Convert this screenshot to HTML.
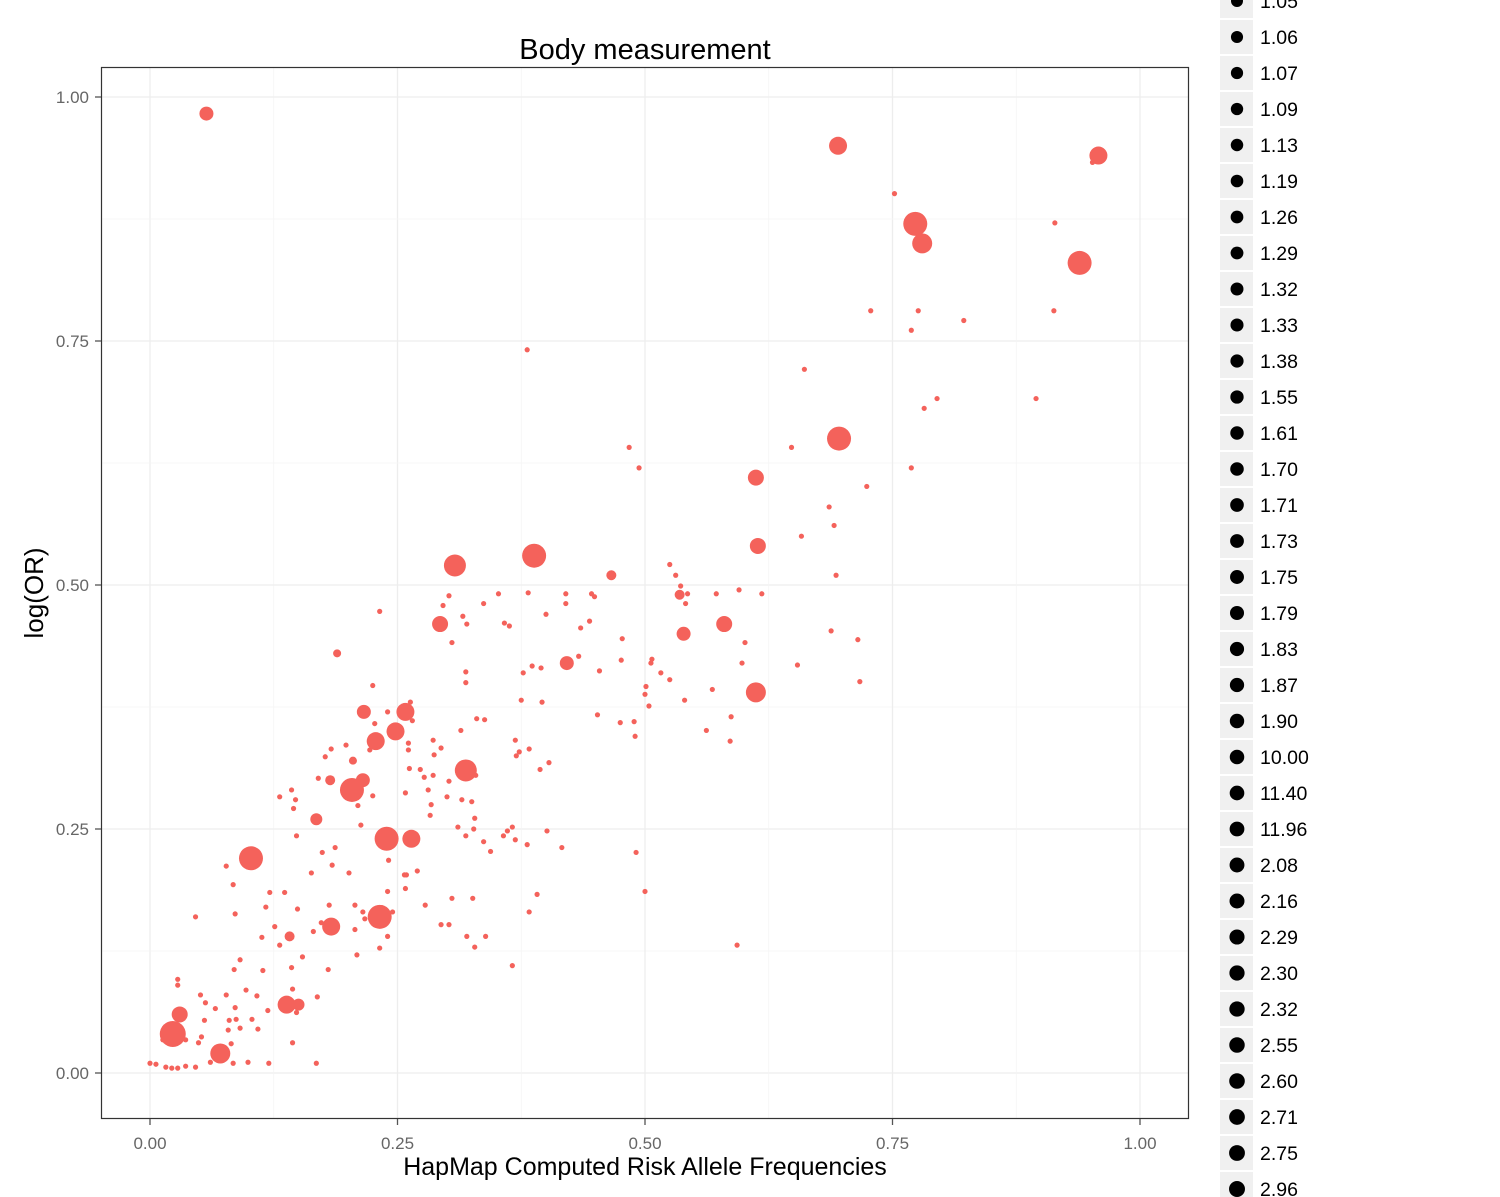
<!DOCTYPE html>
<html><head><meta charset="utf-8"><style>
body{margin:0;background:#fff;width:1500px;height:1197px;overflow:hidden;font-family:"Liberation Sans",Arial,sans-serif}
svg{display:block}
</style></head><body>
<svg id="chart" width="1500" height="1197" viewBox="0 0 1500 1197" xmlns="http://www.w3.org/2000/svg">
<text x="645" y="59" font-size="29" text-anchor="middle" fill="#000">Body measurement</text>
<g id="grid"></g>
<g id="points"></g>
<rect x="101.5" y="67.5" width="1087" height="1051" fill="none" stroke="#333" stroke-width="1.2"/>
<g id="axes"></g>
<text x="645" y="1175" font-size="25" text-anchor="middle" fill="#000">HapMap Computed Risk Allele Frequencies</text>
<text transform="translate(43,593) rotate(-90)" font-size="26" text-anchor="middle" fill="#000">log(OR)</text>
<g id="legend"></g>
</svg>
<script>
const xTicks=[0,0.25,0.5,0.75,1];
const yTicks=[0,0.25,0.5,0.75,1];
const xTickLabels=["0.00","0.25","0.50","0.75","1.00"];
const yTickLabels=["0.00","0.25","0.50","0.75","1.00"];
// large points: freq, logOR, size (area units)
const bigX=[.057,.695,.958,.773,.780,.939,.696,.612,.614,.388,.308,.293,.580,.539,.421,.612,.216,.258,.248,.228,.319,.215,.204,.168,.239,.264,.102,.183,.232,.138,.150,.030,.023,.071,.466,.535,.189,.182,.141,.205];
const bigY=[.983,.95,.94,.87,.85,.83,.65,.61,.54,.53,.52,.46,.46,.45,.42,.39,.37,.37,.35,.34,.31,.30,.29,.26,.24,.24,.22,.15,.16,.07,.07,.06,.04,.02,.51,.49,.43,.30,.14,.32];
const bigS=[49,81,81,144,100,144,144,64,64,144,121,64,64,49,49,100,49,81,81,81,121,49,144,36,144,81,144,81,144,81,36,64,169,100,25,25,16,25,25,16];
// small points
const smallX=[.752,.952,.914,.776,.728,.769,.822,.913,.661,.782,.795,.895,.381,.484,.494,.648,.769,.724,.686,.691,.658,.693,.618,.572,.543,.541,.536,.525,.531,.595,.449,.420,.420,.400,.352,.337,.302,.296,.316,.320,.358,.363,.444,.435,.477,.601,.476,.506,.516,.525,.501,.504,.500,.490,.452,.454,.433,.395,.386,.377,.375,.369,.370,.403,.394,.373,.338,.330,.314,.286,.294,.262,.286,.277,.302,.315,.325,.311,.319,.327,.337,.357,.361,.328,.300,.284,.283,.305,.326,.320,.339,.302,.270,.259,.258,.245,.215,.207,.240,.232,.209,.180,.169,.143,.144,.148,.144,.120,.168,.061,.084,.099,.082,.091,.079,.067,.052,.036,.013,.000,.006,.016,.022,.028,.036,.046,.049,.028,.028,.051,.056,.066,.055,.080,.087,.077,.085,.086,.097,.108,.114,.119,.109,.103,.131,.126,.113,.091,.046,.084,.077,.086,.117,.121,.136,.149,.154,.165,.173,.181,.184,.163,.174,.187,.148,.145,.147,.131,.143,.170,.177,.183,.198,.222,.227,.240,.225,.263,.261,.273,.258,.225,.210,.213,.201,.207,.240,.241,.257,.232,.217,.344,.328,.369,.381,.401,.383,.391,.366,.416,.491,.500,.593,.562,.587,.586,.598,.568,.507,.475,.489,.396,.366,.329,.319,.319,.305,.383,.287,.281,.278,.294,.233,.261,.265,.540,.446,.717,.715,.688,.654,.382];
const smallY=[.901,.933,.871,.781,.781,.761,.771,.781,.721,.681,.691,.691,.741,.641,.620,.641,.620,.601,.580,.561,.550,.510,.491,.491,.491,.481,.499,.521,.510,.495,.488,.491,.481,.470,.491,.481,.489,.479,.468,.460,.461,.458,.463,.456,.445,.441,.423,.420,.410,.403,.396,.376,.388,.345,.367,.412,.427,.415,.417,.410,.382,.341,.325,.318,.311,.329,.362,.363,.351,.341,.333,.312,.305,.303,.299,.280,.278,.252,.243,.250,.237,.243,.248,.261,.283,.275,.264,.179,.179,.140,.140,.152,.207,.203,.189,.165,.165,.147,.140,.128,.121,.106,.078,.108,.086,.062,.031,.010,.010,.011,.010,.011,.030,.046,.044,.025,.037,.034,.034,.010,.009,.006,.005,.005,.007,.006,.031,.096,.090,.080,.072,.066,.054,.054,.055,.080,.106,.067,.085,.079,.105,.064,.045,.055,.131,.150,.139,.116,.160,.193,.212,.163,.170,.185,.185,.168,.119,.145,.154,.172,.213,.205,.226,.231,.243,.271,.280,.283,.290,.302,.324,.332,.336,.331,.358,.370,.397,.380,.338,.311,.287,.284,.274,.254,.205,.172,.186,.218,.203,.473,.158,.227,.129,.239,.234,.248,.165,.183,.110,.231,.226,.186,.131,.351,.365,.340,.420,.393,.424,.359,.360,.380,.252,.305,.411,.400,.441,.332,.326,.290,.172,.152,.339,.331,.361,.382,.491,.401,.444,.453,.418,.492];
const legendLabels=["1.05","1.06","1.07","1.09","1.13","1.19","1.26","1.29","1.32","1.33","1.38","1.55","1.61","1.70","1.71","1.73","1.75","1.79","1.83","1.87","1.90","10.00","11.40","11.96","2.08","2.16","2.29","2.30","2.32","2.55","2.60","2.71","2.75","2.96"];

const NS="http://www.w3.org/2000/svg";
const X0=150,X1=1140,Y0=1073,Y1=97;
function xScale(v){return X0+v*(X1-X0);}
function yScale(v){return Y0-v*(Y0-Y1);}
function rScale(s){return Math.sqrt(s);}
function mk(tag,attrs,parent){const e=document.createElementNS(NS,tag);for(const k in attrs)e.setAttribute(k,attrs[k]);parent.appendChild(e);return e;}
const PT='#f4625b';
const grid=document.getElementById('grid');
for(let i=0;i<xTicks.length;i++){
  const l=mk('line',{x1:xScale(xTicks[i]),x2:xScale(xTicks[i]),y1:68,y2:1118,stroke:'#ededed','stroke-width':1.3},grid);
  
  
  const h=mk('line',{x1:102,x2:1188,y1:yScale(yTicks[i]),y2:yScale(yTicks[i]),stroke:'#ededed','stroke-width':1.3},grid);
  
  
  if(i<xTicks.length-1){
    const mx=(xTicks[i]+xTicks[i+1])/2,my=(yTicks[i]+yTicks[i+1])/2;
    const m1=mk('line',{x1:xScale(mx),x2:xScale(mx),y1:68,y2:1118,stroke:'#f5f5f5','stroke-width':0.8},grid);
    
    
    const m2=mk('line',{x1:102,x2:1188,y1:yScale(my),y2:yScale(my),stroke:'#f5f5f5','stroke-width':0.8},grid);
    
    
  }
}
const pts=document.getElementById('points');
for(let i=0;i<smallX.length;i++){
  const c=mk('circle',{cx:xScale(smallX[i]),cy:yScale(smallY[i]),r:2.6,fill:PT},pts);
  
  
}
for(let i=0;i<bigX.length;i++){
  const c=mk('circle',{cx:xScale(bigX[i]),cy:yScale(bigY[i]),r:rScale(bigS[i]),fill:PT},pts);
  
  
}
const axes=document.getElementById('axes');
for(let i=0;i<xTicks.length;i++){
  const x=xScale(xTicks[i]);
  const t=mk('line',{x1:x,x2:x,y1:1119,y2:1125,stroke:'#555','stroke-width':1.3},axes);
  
  
  const tx=mk('text',{x:x,y:1149,'font-size':17,'text-anchor':'middle',fill:'#666'},axes);
  tx.textContent=xTickLabels[i];
  
  
  const y=yScale(yTicks[i]);
  const u=mk('line',{x1:95,x2:101,y1:y,y2:y,stroke:'#555','stroke-width':1.3},axes);
  
  
  const ty=mk('text',{x:89,y:y+6,'font-size':17,'text-anchor':'end',fill:'#666'},axes);
  ty.textContent=yTickLabels[i];
  
  
}
const lg=document.getElementById('legend');
for(let i=0;i<legendLabels.length;i++){
  const cy=1+36*i;
  const g=mk('g',{},lg);
  
  
  mk('rect',{x:1220,y:cy-17,width:33,height:34,fill:'#f0f0f0'},g);
  mk('circle',{cx:1237,cy:cy,r:6+i*0.06,fill:'#000'},g);
  const t=mk('text',{x:1260,y:cy+7,'font-size':19.5,fill:'#000'},g);
  t.textContent=legendLabels[i];
}
</script>
</body></html>
